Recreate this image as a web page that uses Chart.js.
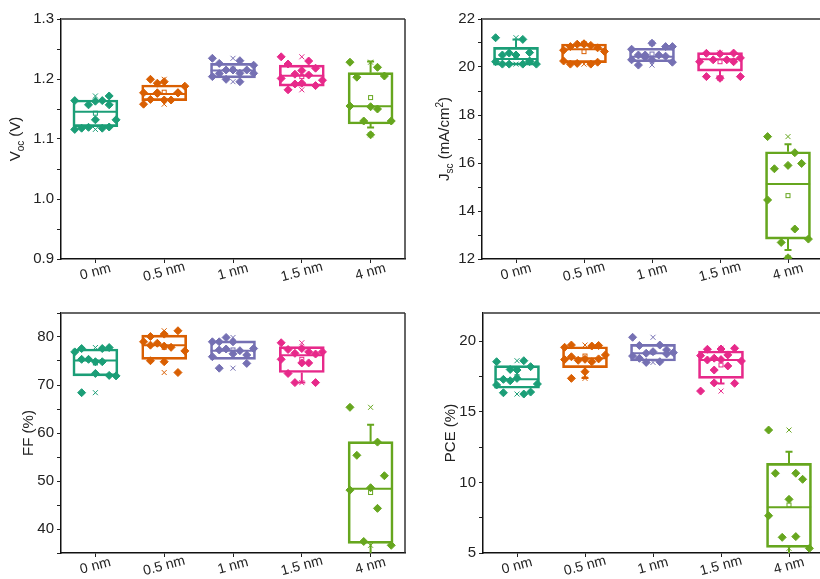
<!DOCTYPE html>
<html>
<head>
<meta charset="utf-8">
<script src="https://cdn.jsdelivr.net/npm/chart.js@4"></script>
<style>
  html, body { margin: 0; padding: 0; background: #fff; overflow: hidden; }
  #wrap { position: relative; width: 820px; height: 579px; overflow: hidden; }
  #wrap canvas { position: absolute; }
</style>
</head>
<body>
<div id="wrap">
  <canvas id="voc" width="410" height="290" style="left:0;top:0;width:410px;height:290px"></canvas>
  <canvas id="jsc" width="417" height="290" style="left:410px;top:0;width:417px;height:290px"></canvas>
  <canvas id="ff" width="410" height="289" style="left:0;top:290px;width:410px;height:289px"></canvas>
  <canvas id="pce" width="418" height="289" style="left:410px;top:290px;width:418px;height:289px"></canvas>
</div>
<script>
const categories = ['0 nm', '0.5 nm', '1 nm', '1.5 nm', '4 nm'];

// Voc (V)
const vocPoints = [
  [1.116, 1.164, 1.118, 1.157, 1.132, 1.164, 1.118, 1.157, 1.132, 1.163, 1.1195, 1.1717, 1.120],
  [1.177, 1.165, 1.1995, 1.177, 1.1955, 1.158, 1.165, 1.177, 1.188, 1.193, 1.166, 1.177, 1.176],
  [1.2345, 1.2305, 1.226, 1.215, 1.215, 1.204, 1.1955, 1.1995, 1.2095, 1.2095, 1.209, 1.215, 1.223],
  [1.237, 1.230, 1.225, 1.218, 1.214, 1.201, 1.2067, 1.208, 1.198, 1.193, 1.182, 1.189, 1.1917],
  [1.228, 1.2195, 1.203, 1.205, 1.1538, 1.155, 1.150, 1.130, 1.130, 1.107]
];
const vocQ1 = [1.1205, 1.164, 1.202, 1.188, 1.125];
const vocQ3 = [1.165, 1.190, 1.226, 1.223, 1.2105];
const vocMedian = [1.1455, 1.175, 1.214, 1.2055, 1.1545];
const vocMean = [1.143, 1.178, 1.2167, 1.204, 1.169];
const vocWhiskerLow = [null, null, null, null, 1.119];
const vocWhiskerHigh = [null, null, null, null, 1.229];
const vocTicks = [0.9, 1.0, 1.1, 1.2, 1.3];

// Jsc (mA/cm2)
const jscPoints = [
  [21.22, 21.15, 20.5, 20.6, 20.5, 20.22, 20.12, 20.12, 20.12, 20.22, 20.12, 20.25, 20.58],
  [20.25, 20.12, 20.85, 20.8, 20.95, 20.7, 20.9, 20.95, 20.65, 20.97, 20.12, 20.2, 20.15],
  [20.74, 20.5, 20.08, 20.85, 20.99, 20.3, 20.3, 20.4, 20.85, 20.5, 20.45, 20.2, 20.5],
  [20.22, 20.3, 20.57, 20.58, 20.55, 20.3, 20.22, 20.38, 19.6, 19.53, 19.6],
  [17.1, 16.43, 15.76, 15.98, 15.9, 14.46, 13.25, 12.69, 12.83, 12.05]
];
const jscQ1 = [20.08, 20.18, 20.22, 19.83, 12.83];
const jscQ3 = [20.82, 20.96, 20.78, 20.6, 16.47];
const jscMedian = [20.33, 20.74, 20.43, 20.32, 15.12];
const jscMean = [20.42, 20.64, 20.54, 20.22, 14.64];
const jscWhiskerLow = [null, null, null, 19.6, 12.37];
const jscWhiskerHigh = [21.15, null, null, null, 16.78];
const jscTicks = [12, 14, 16, 18, 20, 22];

// FF (%)
const ffPoints = [
  [76.9, 77.6, 77.6, 77.8, 74.85, 75.35, 74.85, 75.35, 71.9, 72.4, 68.4, 72.0],
  [79.0, 77.85, 80.1, 81.3, 80.6, 78.7, 78.1, 78.3, 77.1, 74.85, 75.06, 72.6],
  [79.0, 77.15, 77.3, 76.25, 79.0, 77.5, 76.5, 79.0, 77.6, 79.9, 73.5, 74.5, 75.9],
  [78.8, 76.9, 77.4, 76.45, 74.6, 75.35, 74.6, 76.6, 76.9, 77.6, 72.4, 70.5, 70.5],
  [65.35, 58.1, 55.35, 51.1, 48.6, 48.1, 44.3, 37.4, 36.6]
];
const ffQ1 = [71.9, 75.35, 75.35, 72.6, 37.0];
const ffQ3 = [77.5, 80.4, 79.2, 78.0, 58.2];
const ffMedian = [75.1, 78.3, 77.15, 76.2, 48.4];
const ffMean = [74.6, 77.85, 77.3, 75.35, 47.6];
const ffWhiskerLow = [null, null, null, 70.5, 33];
const ffWhiskerHigh = [null, null, null, null, 61.7];
const ffTicks = [40, 50, 60, 70, 80];

// PCE (%)
const pcePoints = [
  [16.9, 16.26, 17.3, 18.2, 17.96, 18.55, 18.62, 18.0, 16.97, 17.37, 16.35, 16.4, 17.2],
  [19.57, 19.66, 19.73, 19.7, 18.72, 18.7, 18.55, 18.65, 19.03, 17.84, 17.37, 18.75, 18.9],
  [20.28, 19.73, 19.7, 19.38, 19.26, 18.95, 18.55, 18.5, 19.19, 18.79, 19.15, 19.1],
  [18.98, 18.25, 18.67, 19.5, 19.45, 18.8, 18.7, 17.96, 18.6, 19.03, 19.43, 17.02, 17.05, 16.47],
  [13.71, 10.65, 10.65, 10.22, 8.8, 7.64, 6.16, 6.11, 5.33]
];
const pceQ1 = [16.67, 18.13, 18.6, 17.37, 5.4];
const pceQ3 = [18.27, 19.61, 19.78, 19.31, 11.35];
const pceMedian = [17.30, 18.79, 19.15, 18.67, 8.24];
const pceMean = [17.49, 18.95, 19.22, 18.32, 8.4];
const pceWhiskerLow = [null, 17.4, null, 17.0, 4];
const pceWhiskerHigh = [null, null, null, null, 12.18];
const pceTicks = [5, 10, 15, 20];

const palette = ['#1b9e77', '#d95f02', '#7570b3', '#e7298a', '#66a61e'];
const FONT = '"Liberation Sans", Arial, sans-serif';
Chart.defaults.font.family = FONT;

// spread points of one group sideways so diamonds don't sit on each other
function swarm(vals, center, yRange) {
  const slots = [-0.3, -0.2, -0.1, 0, 0.1, 0.2, 0.3];
  const th = yRange * 8 / 240;
  const placed = [];
  return vals.map((v, k) => {
    const pref = Math.floor(((k * 0.618034) % 1) * slots.length);
    const order = slots.map((s, j) => j).sort((a, b) => Math.abs(a - pref) - Math.abs(b - pref));
    let pick = pref;
    for (const j of order) {
      if (!placed.some(p => p.j === j && Math.abs(p.v - v) < th)) { pick = j; break; }
    }
    placed.push({ j: pick, v: v });
    return { x: center + slots[pick], y: v };
  });
}

function boxPlugin(s) {
  return {
    id: 'boxParts',
    beforeDatasetsDraw(chart) {
      const { ctx, chartArea: a, scales } = chart;
      const xs = scales.xp, ys = scales.y;
      const half = 0.325;
      ctx.save();
      ctx.beginPath();
      ctx.rect(a.left, a.top, a.width, a.height);
      ctx.clip();
      s.median.forEach((m, i) => {
        const c = palette[i];
        const xc = xs.getPixelForValue(i);
        ctx.strokeStyle = c;
        ctx.lineWidth = 2;
        ctx.beginPath();
        const ym = ys.getPixelForValue(m);
        ctx.moveTo(xs.getPixelForValue(i - half), ym);
        ctx.lineTo(xs.getPixelForValue(i + half), ym);
        ctx.stroke();
        // whiskers
        [[s.whiskerHigh[i], s.q3[i]], [s.whiskerLow[i], s.q1[i]]].forEach(([w, edge]) => {
          if (w === null) return;
          const yw = ys.getPixelForValue(w);
          ctx.beginPath();
          ctx.moveTo(xc, ys.getPixelForValue(edge));
          ctx.lineTo(xc, yw);
          ctx.moveTo(xc - 3.5, yw);
          ctx.lineTo(xc + 3.5, yw);
          ctx.stroke();
        });
        // mean
        ctx.lineWidth = 1;
        const ymean = ys.getPixelForValue(s.mean[i]);
        ctx.strokeRect(xc - 2, ymean - 2, 4, 4);
        // min / max crosses
        const vals = s.points[i];
        [Math.min(...vals), Math.max(...vals)].forEach(v => {
          const y = ys.getPixelForValue(v);
          ctx.beginPath();
          ctx.moveTo(xc - 2.5, y - 2.5); ctx.lineTo(xc + 2.5, y + 2.5);
          ctx.moveTo(xc + 2.5, y - 2.5); ctx.lineTo(xc - 2.5, y + 2.5);
          ctx.stroke();
        });
      });
      ctx.restore();
    },
    afterDraw(chart) {
      const { ctx, chartArea: a, scales } = chart;
      ctx.save();
      // top and right frame
      ctx.strokeStyle = '#666';
      ctx.lineWidth = 2;
      ctx.beginPath();
      ctx.moveTo(a.left, a.top);
      ctx.lineTo(a.right, a.top);
      ctx.stroke();
      ctx.strokeStyle = '#333';
      ctx.lineWidth = 1.5;
      ctx.beginPath();
      ctx.moveTo(a.right, a.top);
      ctx.lineTo(a.right, a.bottom);
      ctx.stroke();

      // slanted category labels
      ctx.fillStyle = '#222';
      ctx.font = '14px ' + FONT;
      ctx.textAlign = 'center';
      ctx.textBaseline = 'middle';
      categories.forEach((c, i) => {
        const x = scales.x.getPixelForTick(i);
        ctx.save();
        ctx.translate(x, a.bottom + 13);
        ctx.rotate(-15 * Math.PI / 180);
        ctx.fillText(c, 0, 0);
        ctx.restore();
      });

      // y title with sub/superscripts
      ctx.translate(s.titleX, (a.top + a.bottom) / 2);
      ctx.rotate(-Math.PI / 2);
      ctx.textAlign = 'left';
      ctx.textBaseline = 'alphabetic';
      const fontFor = p => (p.sub || p.sup ? '10px ' : '15px ') + FONT;
      let total = 0;
      s.title.forEach(p => { ctx.font = fontFor(p); total += ctx.measureText(p.t).width; });
      let x = -total / 2;
      s.title.forEach(p => {
        ctx.font = fontFor(p);
        ctx.fillText(p.t, x, p.sub ? 4 : (p.sup ? -6 : 0));
        x += ctx.measureText(p.t).width;
      });
      ctx.restore();
    }
  };
}

function makePanel(id, s) {
  const datasets = [{
    type: 'bar',
    data: categories.map((c, i) => [s.q1[i], s.q3[i]]),
    xAxisID: 'x',
    yAxisID: 'y',
    backgroundColor: 'rgba(255,255,255,0)',
    borderColor: palette,
    borderWidth: 2,
    borderSkipped: false,
    grouped: false,
    barThickness: 45,
    order: 2
  }];
  s.points.forEach((vals, i) => {
    datasets.push({
      type: 'scatter',
      data: swarm(vals, i, s.max - s.min),
      xAxisID: 'xp',
      yAxisID: 'y',
      pointStyle: 'rectRot',
      pointRadius: 4,
      backgroundColor: palette[i],
      borderColor: palette[i],
      borderWidth: 1,
      order: 1
    });
  });
  const onStep = v => Math.abs(v / s.step - Math.round(v / s.step)) < 1e-6;
  new Chart(document.getElementById(id), {
    type: 'bar',
    data: { labels: categories, datasets: datasets },
    options: {
      responsive: false,
      animation: false,
      events: [],
      layout: { padding: { left: 0, top: s.top, right: s.right, bottom: 0 } },
      plugins: { legend: { display: false }, tooltip: { enabled: false } },
      scales: {
        x: {
          type: 'category',
          offset: true,
          grid: { drawOnChartArea: false, offset: false, tickLength: 4, color: '#222' },
          border: { color: '#111', width: 1.5 },
          ticks: { display: false },
          afterFit: sc => { sc.height = s.bottomH; }
        },
        xp: { type: 'linear', min: -0.5, max: 4.5, offset: false, display: false },
        y: {
          min: s.min,
          max: s.max,
          ticks: {
            stepSize: s.step,
            color: '#222',
            padding: 3,
            font: { size: 15 },
            callback: v => s.ticks.some(t => Math.abs(t - v) < 1e-9) ? v.toFixed(s.decimals) : ''
          },
          grid: {
            drawOnChartArea: false,
            tickLength: 4,
            color: c => onStep(c.tick.value) ? '#222' : 'rgba(0,0,0,0)'
          },
          border: { color: '#111', width: 1.5 },
          afterFit: sc => { sc.width = s.leftW; }
        }
      }
    },
    plugins: [boxPlugin(s)]
  });
}

makePanel('voc', {
  points: vocPoints, q1: vocQ1, q3: vocQ3, median: vocMedian, mean: vocMean,
  whiskerLow: vocWhiskerLow, whiskerHigh: vocWhiskerHigh, ticks: vocTicks,
  min: 0.9, max: 1.3, step: 0.05, decimals: 1,
  top: 19, right: 4, leftW: 61, bottomH: 31, titleX: 20,
  title: [{ t: 'V' }, { t: 'oc', sub: true }, { t: ' (V)' }]
});
makePanel('jsc', {
  points: jscPoints, q1: jscQ1, q3: jscQ3, median: jscMedian, mean: jscMean,
  whiskerLow: jscWhiskerLow, whiskerHigh: jscWhiskerHigh, ticks: jscTicks,
  min: 12, max: 22, step: 1, decimals: 0,
  top: 19, right: 0, leftW: 72, bottomH: 31, titleX: 38.5,
  title: [{ t: 'J' }, { t: 'sc', sub: true }, { t: ' (mA/cm' }, { t: '2', sup: true }, { t: ')' }]
});
makePanel('ff', {
  points: ffPoints, q1: ffQ1, q3: ffQ3, median: ffMedian, mean: ffMean,
  whiskerLow: ffWhiskerLow, whiskerHigh: ffWhiskerHigh, ticks: ffTicks,
  min: 35, max: 85, step: 5, decimals: 0,
  top: 23, right: 4, leftW: 61, bottomH: 26, titleX: 33,
  title: [{ t: 'FF (%)' }]
});
makePanel('pce', {
  points: pcePoints, q1: pceQ1, q3: pceQ3, median: pceMedian, mean: pceMean,
  whiskerLow: pceWhiskerLow, whiskerHigh: pceWhiskerHigh, ticks: pceTicks,
  min: 5, max: 22, step: 2.5, decimals: 0,
  top: 23, right: 0, leftW: 73, bottomH: 26, titleX: 44.5,
  title: [{ t: 'PCE (%)' }]
});
</script>
</body>
</html>
